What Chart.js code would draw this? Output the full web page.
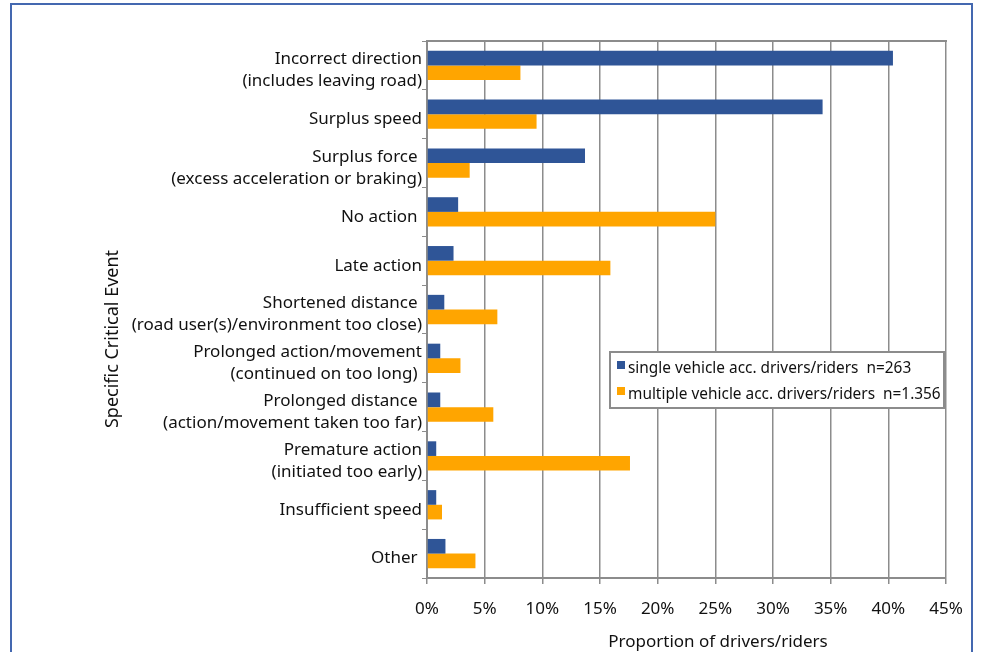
<!DOCTYPE html>
<html><head><meta charset="utf-8">
<script src="https://cdn.jsdelivr.net/npm/chart.js@4"></script>
<style>
html,body{margin:0;padding:0;background:#fff;}
#wrap{position:relative;width:984px;height:652px;overflow:hidden;}
#frame{position:absolute;left:10px;top:3px;width:963px;height:700px;border:2px solid #4468b0;box-sizing:border-box;}
canvas{position:absolute;left:0;top:0;}
</style></head>
<body><div id="wrap"><div id="frame"></div><canvas id="c" width="984" height="652"></canvas></div>
<script>
const categories = [
  ["Incorrect direction", "(includes leaving road)"],
  "Surplus speed",
  ["Surplus force ", "(excess acceleration or braking)"],
  "No action ",
  "Late action",
  ["Shortened distance ", "(road user(s)/environment too close)"],
  ["Prolonged action/movement", "(continued on too long) "],
  ["Prolonged distance ", "(action/movement taken too far)"],
  ["Premature action", "(initiated too early)"],
  "Insufficient speed",
  "Other "
];
const singleVehicle = [40.4, 34.3, 13.7, 2.7, 2.3, 1.5, 1.15, 1.15, 0.8, 0.8, 1.6];
const multipleVehicle = [8.1, 9.5, 3.7, 25.0, 15.9, 6.1, 2.9, 5.75, 17.6, 1.3, 4.2];
const seriesLabels = ["single vehicle acc. drivers/riders  n=263", "multiple vehicle acc. drivers/riders  n=1.356"];
const xTicks = [0, 5, 10, 15, 20, 25, 30, 35, 40, 45];
const xTitle = "Proportion of drivers/riders";
const yTitle = "Specific Critical Event";

const FONT = "'Noto Sans', sans-serif";

const boxLegend = {
  id: 'boxLegend',
  afterDatasetsDraw(chart) {
    const ctx = chart.ctx;
    ctx.save();
    const x0 = 610, y0 = 352, w = 334, h = 56;
    ctx.fillStyle = '#fff';
    ctx.fillRect(x0, y0, w, h);
    ctx.strokeStyle = '#8c8c8c';
    ctx.lineWidth = 2;
    ctx.strokeRect(x0, y0, w, h);
    ctx.font = "15.4px " + FONT;
    ctx.textBaseline = 'middle';
    chart.data.datasets.forEach((ds, i) => {
      const cy = y0 + 16 + i * 26;
      ctx.fillStyle = ds.backgroundColor;
      ctx.fillRect(x0 + 7, cy - 7, 8, 8);
      ctx.fillStyle = '#111';
      ctx.fillText(ds.label, x0 + 18, cy + 1);
    });
    ctx.restore();
  }
};
const frameLines = {
  id: 'frameLines',
  beforeDatasetsDraw(chart) {
    const {ctx, chartArea} = chart;
    ctx.save();
    ctx.strokeStyle = '#8c8c8c';
    ctx.lineWidth = 2;
    ctx.beginPath();
    ctx.moveTo(chartArea.left, chartArea.top);
    ctx.lineTo(chartArea.right + 1, chartArea.top);
    ctx.stroke();
    ctx.restore();
  },
  afterDraw(chart) {
    const ctx = chart.ctx;
    ctx.save();
    ctx.fillStyle = '#111';
    ctx.font = "17px " + FONT;
    ctx.textAlign = 'center';
    ctx.textBaseline = 'middle';
    ctx.fillText(xTitle, 718, 642);
    ctx.translate(113, 339);
    ctx.rotate(-Math.PI / 2);
    ctx.font = "18px " + FONT;
    ctx.fillText(yTitle, 0, 0);
    ctx.restore();
  }
};

new Chart(document.getElementById('c'), {
  type: 'bar',
  data: {
    labels: categories,
    datasets: [
      {label: seriesLabels[0], data: singleVehicle, backgroundColor: '#2f5597', borderWidth: 0},
      {label: seriesLabels[1], data: multipleVehicle, backgroundColor: '#ffa500', borderWidth: 0}
    ]
  },
  options: {
    indexAxis: 'y',
    responsive: false,
    animation: false,
    categoryPercentage: 0.6,
    barPercentage: 1.0,
    layout: {padding: {left: 100, right: 38, top: 41, bottom: 0}},
    plugins: {legend: {display: false}, tooltip: {enabled: false}},
    scales: {
      x: {
        min: 0, max: 45,
        afterBuildTicks(scale) { scale.ticks = xTicks.map(v => ({value: v})); },
        afterFit(scale) { scale.height = 74; },
        grid: {color: '#8c8c8c', lineWidth: 1.5, tickLength: 6},
        border: {color: '#8c8c8c', width: 2},
        ticks: {padding: 15, color: '#111', font: {size: 17, family: FONT}, callback: v => v + '%'},
        title: {display: false}
      },
      y: {
        afterFit(scale) { scale.width = 327; },
        grid: {offset: true, drawOnChartArea: false, color: '#8c8c8c', tickLength: 5},
        border: {color: '#8c8c8c', width: 2},
        ticks: {padding: 0, labelOffset: 5, color: '#111', font: {size: 17, family: FONT, lineHeight: 1.3}, autoSkip: false},
        title: {display: false}
      }
    }
  },
  plugins: [frameLines, boxLegend]
});
</script>
</body></html>
